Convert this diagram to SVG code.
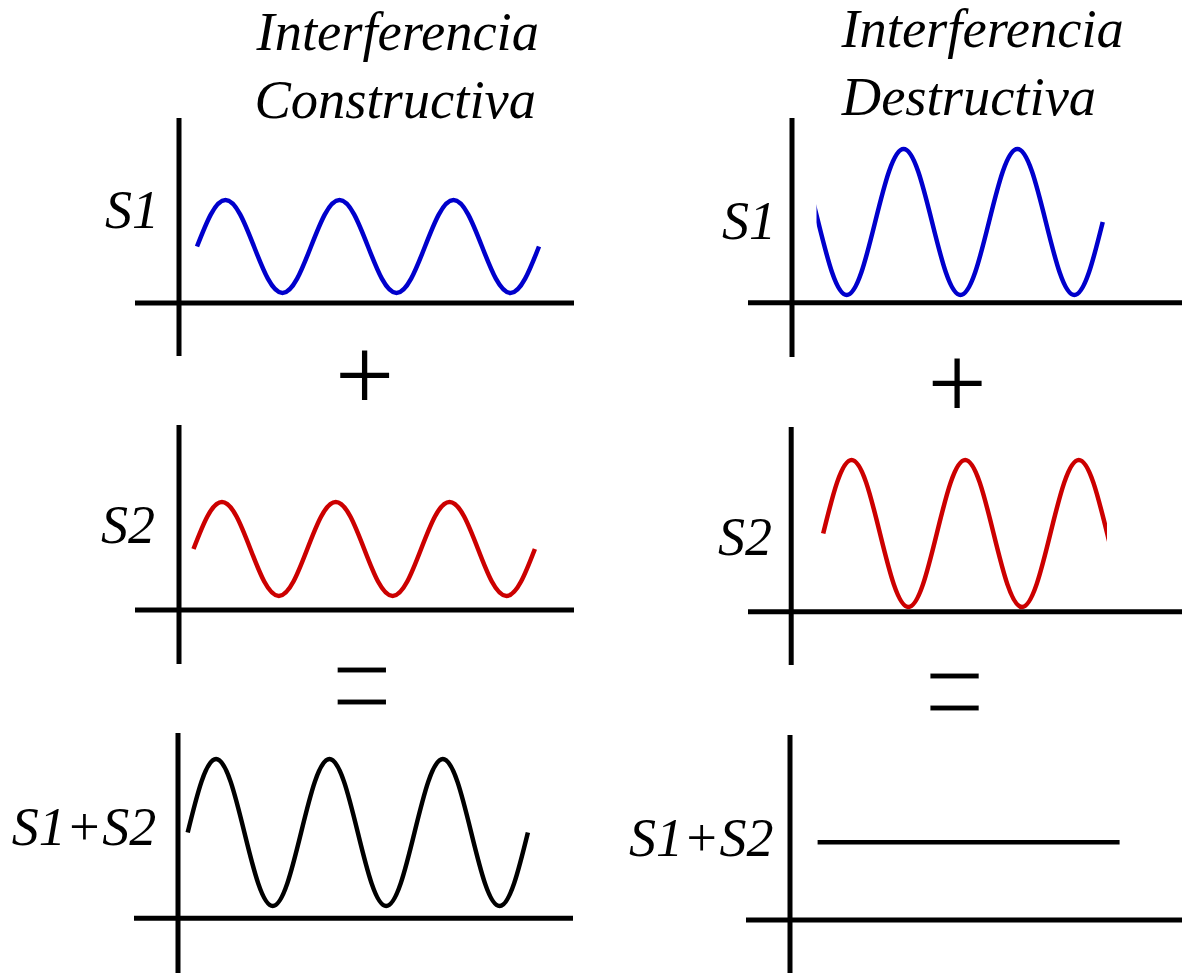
<svg xmlns="http://www.w3.org/2000/svg" width="1182" height="973" viewBox="0 0 1182 973">
<style>
.ax{stroke:#000;stroke-width:5;fill:none}
.wv{fill:none;stroke-width:4.5}
.blue{stroke:#0000CC}
.red{stroke:#CC0000}
.blk{stroke:#000}
.ttl{font-family:"Liberation Serif","Times New Roman",serif;font-style:italic;font-size:54.5px;fill:#000}
.lbl{font-family:"Liberation Serif","Times New Roman",serif;font-style:italic;font-size:54px;fill:#000}
.op{font-family:"Liberation Serif","Times New Roman",serif;font-size:105px;fill:#000}
.eq{stroke:#fff;stroke-width:1.9}
</style>
<defs>
<clipPath id="clipR1"><rect x="816.5" y="100" width="370" height="260"/></clipPath>
<clipPath id="clipR2"><rect x="780" y="420" width="327" height="250"/></clipPath>
</defs>
<rect width="1182" height="973" fill="#fff"/>

<g id="title-constructiva">
<text class="ttl" x="256.5" y="50">Interferencia</text>
<text class="ttl" x="254.4" y="118">Constructiva</text>
</g>
<g id="title-destructiva">
<text class="ttl" x="841.4" y="47">Interferencia</text>
<text class="ttl" x="841.8" y="115">Destructiva</text>
</g>

<g id="plot-c-s1">
<line class="ax" x1="179" y1="118" x2="179" y2="356"/>
<line class="ax" x1="135" y1="303" x2="574" y2="303"/>
<path class="wv blue" d="M197,246.5 C206.29,222.68 215.19,200 225.5,200 S244.71,222.68 254,246.5 S272.19,293 282.5,293 S301.71,270.32 311,246.5 S329.19,200 339.5,200 S358.71,222.68 368,246.5 S386.19,293 396.5,293 S415.71,270.32 425,246.5 S443.19,200 453.5,200 S472.71,222.68 482,246.5 S500.19,293 510.5,293 S529.71,270.32 539,246.5"/>
<text class="lbl" x="105" y="228">S1</text>
</g>

<g id="op-c-plus"><text class="op" x="364.6" y="410.8" text-anchor="middle">+</text></g>

<g id="plot-c-s2">
<line class="ax" x1="179" y1="425" x2="179" y2="664"/>
<line class="ax" x1="135" y1="610" x2="574" y2="610"/>
<path class="wv red" d="M193.5,549 C202.78,524.92 211.65,502 221.95,502 S241.12,524.92 250.4,549 S268.55,596 278.85,596 S298.02,573.08 307.3,549 S325.45,502 335.75,502 S354.92,524.92 364.2,549 S382.35,596 392.65,596 S411.82,573.08 421.1,549 S439.25,502 449.55,502 S468.72,524.92 478,549 S496.15,596 506.45,596 S525.62,573.08 534.9,549"/>
<text class="lbl" x="101" y="543">S2</text>
</g>

<g id="op-c-equals"><text class="op eq" text-anchor="middle" transform="translate(361.7,739.3) scale(1.03,1.524)">=</text></g>

<g id="plot-c-sum">
<line class="ax" x1="178" y1="733" x2="178" y2="973"/>
<line class="ax" x1="134" y1="918.3" x2="573" y2="918.3"/>
<path class="wv blk" d="M187.7,832.5 C196.95,794.85 205.79,759 216.05,759 S235.16,794.85 244.4,832.5 S262.49,906 272.75,906 S291.86,870.15 301.1,832.5 S319.19,759 329.45,759 S348.56,794.85 357.8,832.5 S375.89,906 386.15,906 S405.26,870.15 414.5,832.5 S432.59,759 442.85,759 S461.96,794.85 471.2,832.5 S489.29,906 499.55,906 S518.66,870.15 527.9,832.5"/>
<text class="lbl" x="11.7" y="845">S1+S2</text>
</g>

<g id="plot-d-s1">
<line class="ax" x1="792" y1="118" x2="792" y2="357"/>
<line class="ax" x1="748" y1="302.7" x2="1182" y2="302.7"/>
<path class="wv blue" clip-path="url(#clipR1)" d="M789.8,149 C800.1,149 808.97,184.6 818.25,222 S836.40,295 846.70,295 S865.87,259.4 875.15,222 S893.30,149 903.60,149 S922.77,184.6 932.05,222 S950.20,295 960.50,295 S979.67,259.4 988.95,222 S1007.10,149 1017.40,149 S1036.57,184.6 1045.85,222 S1064.00,295 1074.30,295 S1093.47,259.4 1102.75,222"/>
<text class="lbl" x="722" y="239.3">S1</text>
</g>

<g id="op-d-plus"><text class="op" x="957" y="418.5" text-anchor="middle">+</text></g>

<g id="plot-d-s2">
<line class="ax" x1="791.2" y1="427" x2="791.2" y2="665"/>
<line class="ax" x1="748" y1="611.7" x2="1182" y2="611.7"/>
<path class="wv red" clip-path="url(#clipR2)" d="M823.2,533.5 C832.46,495.85 841.32,460 851.6,460 S870.74,495.85 880.0,533.5 S898.12,607 908.4,607 S927.54,571.15 936.8,533.5 S954.92,460 965.2,460 S984.34,495.85 993.6,533.5 S1011.72,607 1022.0,607 S1041.14,571.15 1050.4,533.5 S1068.52,460 1078.8,460 S1097.94,495.85 1107.2,533.5 S1125.32,607 1135.6,607"/>
<text class="lbl" x="718" y="555">S2</text>
</g>

<g id="op-d-equals"><text class="op eq" text-anchor="middle" transform="translate(954.5,744.9) scale(1.03,1.524)">=</text></g>

<g id="plot-d-sum">
<line class="ax" x1="790" y1="735" x2="790" y2="973"/>
<line class="ax" x1="746" y1="920" x2="1182" y2="920"/>
<line class="wv blk" x1="817.6" y1="842.3" x2="1119.6" y2="842.3"/>
<text class="lbl" x="629" y="856">S1+S2</text>
</g>
</svg>
